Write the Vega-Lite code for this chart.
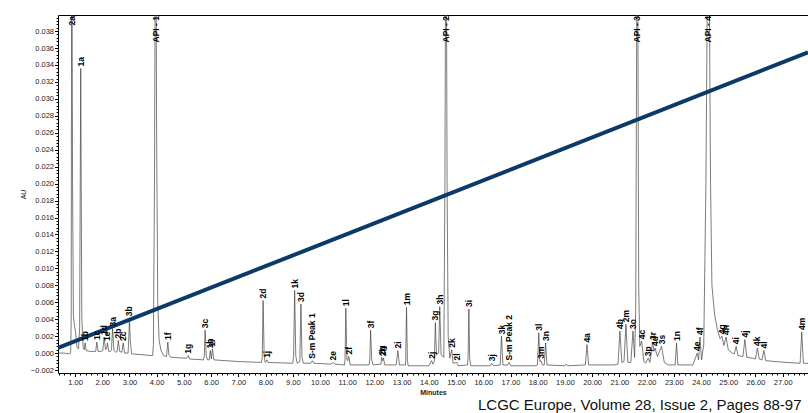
{
  "$schema": "https://vega.github.io/schema/vega-lite/v6.json",
  "width": 750,
  "height": 358,
  "autosize": {"type": "none"},
  "padding": {"left": 58, "top": 15, "right": 0, "bottom": 40},
  "config": {"font": "Liberation Sans", "view": {"stroke": null}, "axis": {"grid": false}},
  "title": {"text": "LCGC Europe, Volume 28, Issue 2, Pages 88-97", "orient": "bottom", "anchor": "start", "frame": "group", "dx": 420, "offset": 15, "baseline": "alphabetic", "fontSize": 15, "fontWeight": "normal", "color": "#111"},
  "datasets": {
    "trace": [
      {"t":0.375,"v":0.0000},{"t":0.6,"v":0.0000},{"t":0.8,"v":-0.0001},{"t":0.84,"v":0.0000},
      {"t":0.86,"v":0.004},{"t":0.88,"v":0.06},{"t":0.91,"v":0.02},{"t":0.94,"v":0.0045},{"t":0.97,"v":0.0035},{"t":1.02,"v":0.0025},{"t":1.07,"v":0.0007},{"t":1.13,"v":0.0005},
      {"t":1.17,"v":0.003},{"t":1.21,"v":0.0336},{"t":1.25,"v":0.004},{"t":1.3,"v":0.0006},
      {"t":1.34,"v":0.0004},{"t":1.37,"v":0.0012},{"t":1.41,"v":0.0003},
      {"t":1.55,"v":0.0002},
      {"t":1.76,"v":0.0002},{"t":1.80,"v":0.0013},{"t":1.85,"v":0.0002},
      {"t":1.95,"v":0.0002},
      {"t":2.02,"v":0.0003},{"t":2.07,"v":0.0019},{"t":2.12,"v":0.0004},
      {"t":2.16,"v":0.0005},{"t":2.19,"v":0.0012},{"t":2.24,"v":0.0002},
      {"t":2.30,"v":0.0002},
      {"t":2.34,"v":0.0004},{"t":2.38,"v":0.0029},{"t":2.43,"v":0.0003},
      {"t":2.50,"v":0.0001},
      {"t":2.55,"v":0.0002},{"t":2.59,"v":0.0015},{"t":2.64,"v":0.0002},
      {"t":2.72,"v":0.0001},{"t":2.77,"v":0.0012},{"t":2.82,"v":0.0000},
      {"t":2.95,"v":0.0000},{"t":2.98,"v":0.002},{"t":3.00,"v":0.0041},{"t":3.03,"v":0.0015},{"t":3.08,"v":-0.0001},
      {"t":3.5,"v":-0.0002},{"t":3.85,"v":-0.0003},
      {"t":3.88,"v":0.001},{"t":3.92,"v":0.02},{"t":3.96,"v":0.06},{"t":4.00,"v":0.025},{"t":4.04,"v":0.006},{"t":4.09,"v":0.0015},{"t":4.16,"v":0.0003},{"t":4.26,"v":-0.0003},
      {"t":4.36,"v":-0.0004},{"t":4.41,"v":0.0013},{"t":4.45,"v":-0.0002},{"t":4.52,"v":-0.0005},
      {"t":5.1,"v":-0.0006},{"t":5.16,"v":-0.0003},{"t":5.21,"v":-0.0007},
      {"t":5.72,"v":-0.0008},{"t":5.75,"v":-0.0004},{"t":5.78,"v":0.0027},{"t":5.82,"v":-0.0003},{"t":5.87,"v":-0.0008},
      {"t":5.93,"v":-0.0008},{"t":5.97,"v":0.0003},{"t":6.01,"v":-0.0007},
      {"t":6.05,"v":0.0005},{"t":6.10,"v":-0.0008},
      {"t":7.0,"v":-0.0010},{"t":7.85,"v":-0.0011},
      {"t":7.88,"v":-0.0005},{"t":7.91,"v":0.0062},{"t":7.95,"v":-0.0004},{"t":7.99,"v":-0.0011},
      {"t":8.05,"v":-0.0008},{"t":8.09,"v":-0.0011},
      {"t":9.0,"v":-0.0012},
      {"t":9.03,"v":-0.0004},{"t":9.07,"v":0.0074},{"t":9.11,"v":-0.0003},{"t":9.16,"v":-0.0012},
      {"t":9.26,"v":-0.0010},{"t":9.30,"v":0.0058},{"t":9.34,"v":-0.0005},{"t":9.39,"v":-0.0012},
      {"t":9.66,"v":-0.0012},{"t":9.72,"v":-0.0009},{"t":9.78,"v":-0.0012},
      {"t":10.4,"v":-0.0013},{"t":10.49,"v":-0.0011},{"t":10.55,"v":-0.0013},
      {"t":10.9,"v":-0.0014},
      {"t":10.92,"v":-0.0008},{"t":10.95,"v":0.0053},{"t":10.99,"v":-0.0008},
      {"t":11.02,"v":-0.0009},{"t":11.06,"v":-0.0004},{"t":11.11,"v":-0.0014},
      {"t":11.8,"v":-0.0014},
      {"t":11.83,"v":-0.0008},{"t":11.86,"v":0.0027},{"t":11.90,"v":-0.0008},{"t":11.95,"v":-0.0014},
      {"t":12.24,"v":-0.0013},{"t":12.27,"v":-0.0005},{"t":12.30,"v":-0.0009},{"t":12.33,"v":-0.0006},{"t":12.38,"v":-0.0014},
      {"t":12.80,"v":-0.0014},{"t":12.86,"v":0.0003},{"t":12.92,"v":-0.0014},
      {"t":13.14,"v":-0.0014},{"t":13.15,"v":-0.0008},{"t":13.18,"v":0.0054},{"t":13.21,"v":-0.0008},{"t":13.24,"v":-0.0015},
      {"t":14.0,"v":-0.0015},
      {"t":14.10,"v":-0.0009},{"t":14.15,"v":-0.0013},
      {"t":14.20,"v":-0.0010},{"t":14.24,"v":0.0036},{"t":14.28,"v":-0.0002},
      {"t":14.36,"v":0.0000},{"t":14.40,"v":0.0055},{"t":14.45,"v":-0.0002},
      {"t":14.55,"v":-0.0005},{"t":14.59,"v":0.02},{"t":14.63,"v":0.06},{"t":14.67,"v":0.02},{"t":14.71,"v":0.002},{"t":14.77,"v":-0.0006},
      {"t":14.84,"v":0.0004},{"t":14.89,"v":-0.0012},
      {"t":15.03,"v":-0.0011},{"t":15.08,"v":-0.0015},
      {"t":15.42,"v":-0.0014},{"t":15.44,"v":-0.0006},{"t":15.47,"v":0.0052},{"t":15.50,"v":-0.0006},{"t":15.54,"v":-0.0015},
      {"t":16.25,"v":-0.0015},{"t":16.31,"v":-0.0012},{"t":16.37,"v":-0.0015},
      {"t":16.62,"v":-0.0014},{"t":16.67,"v":0.0020},{"t":16.72,"v":-0.0014},
      {"t":16.90,"v":-0.0014},{"t":16.95,"v":-0.0011},{"t":17.01,"v":-0.0015},
      {"t":17.9,"v":-0.0015},
      {"t":17.99,"v":-0.0014},{"t":18.04,"v":0.0024},{"t":18.08,"v":-0.0010},
      {"t":18.12,"v":-0.0009},{"t":18.17,"v":-0.0014},
      {"t":18.24,"v":-0.0014},{"t":18.29,"v":0.0012},{"t":18.34,"v":-0.0014},
      {"t":19.0,"v":-0.0015},{"t":19.05,"v":-0.0013},{"t":19.1,"v":-0.0015},
      {"t":19.75,"v":-0.0014},{"t":19.81,"v":0.0010},{"t":19.87,"v":-0.0014},
      {"t":20.8,"v":-0.0014},
      {"t":20.95,"v":-0.0013},{"t":21.02,"v":0.0026},{"t":21.09,"v":-0.0011},
      {"t":21.17,"v":-0.0010},{"t":21.24,"v":0.0034},{"t":21.31,"v":-0.0011},
      {"t":21.42,"v":-0.0011},{"t":21.50,"v":0.0026},{"t":21.56,"v":-0.0005},
      {"t":21.60,"v":0.005},{"t":21.66,"v":0.06},{"t":21.71,"v":0.008},{"t":21.75,"v":0.0008},
      {"t":21.82,"v":0.0014},{"t":21.90,"v":-0.0010},
      {"t":21.96,"v":-0.0012},{"t":22.06,"v":-0.0006},{"t":22.12,"v":-0.0011},
      {"t":22.22,"v":0.0013},{"t":22.27,"v":0.0002},
      {"t":22.31,"v":0.0006},{"t":22.40,"v":-0.0004},
      {"t":22.55,"v":0.0008},{"t":22.65,"v":-0.0011},
      {"t":22.8,"v":-0.0014},
      {"t":23.05,"v":-0.0014},{"t":23.10,"v":0.0012},{"t":23.15,"v":-0.0014},
      {"t":23.7,"v":-0.0014},
      {"t":23.86,"v":0.0000},{"t":23.91,"v":-0.0008},
      {"t":23.96,"v":0.0019},{"t":24.02,"v":-0.0008},
      {"t":24.10,"v":0.001},{"t":24.18,"v":0.02},{"t":24.27,"v":0.06},{"t":24.35,"v":0.02},{"t":24.40,"v":0.008},{"t":24.5,"v":0.0045},{"t":24.6,"v":0.0028},{"t":24.7,"v":0.0017},
      {"t":24.77,"v":0.0020},{"t":24.84,"v":0.0009},
      {"t":24.92,"v":0.0019},{"t":25.0,"v":0.0004},
      {"t":25.15,"v":0.0000},
      {"t":25.22,"v":-0.0001},{"t":25.29,"v":0.0008},{"t":25.36,"v":-0.0003},
      {"t":25.54,"v":-0.0004},{"t":25.61,"v":0.0016},{"t":25.68,"v":-0.0005},
      {"t":25.9,"v":-0.0006},
      {"t":26.0,"v":-0.0007},{"t":26.07,"v":0.0006},{"t":26.14,"v":-0.0007},
      {"t":26.24,"v":-0.0008},{"t":26.31,"v":0.0003},{"t":26.38,"v":-0.0009},
      {"t":27.1,"v":-0.0011},
      {"t":27.64,"v":-0.0012},{"t":27.70,"v":0.0025},{"t":27.76,"v":-0.0012},
      {"t":27.93,"v":-0.0012}
    ],
    "grad": [{"t":0.375,"v":0.0006},{"t":27.93,"v":0.0355}],
    "labels": [
      {"t":1.21,"v":0.0336,"label":"1a"},{"t":1.37,"v":0.0012,"label":"1b"},{"t":1.80,"v":0.0013,"label":"1c"},
      {"t":2.07,"v":0.0019,"label":"1d"},{"t":2.19,"v":0.0012,"label":"1e"},{"t":2.38,"v":0.0029,"label":"3a"},
      {"t":2.59,"v":0.0015,"label":"2b"},{"t":2.77,"v":0.0012,"label":"2c"},{"t":3.00,"v":0.0041,"label":"3b"},
      {"t":4.41,"v":0.0013,"label":"1f"},{"t":5.16,"v":-0.0003,"label":"1g"},{"t":5.78,"v":0.0027,"label":"3c"},
      {"t":5.97,"v":0.0003,"label":"1h"},{"t":6.05,"v":0.0005,"label":"1i"},{"t":7.91,"v":0.0062,"label":"2d"},
      {"t":8.05,"v":-0.0008,"label":"1j"},{"t":9.07,"v":0.0074,"label":"1k"},{"t":9.30,"v":0.0058,"label":"3d"},
      {"t":9.72,"v":-0.0009,"label":"S-m Peak 1"},{"t":10.49,"v":-0.0011,"label":"2e"},{"t":10.95,"v":0.0053,"label":"1l"},
      {"t":11.06,"v":-0.0004,"label":"2f"},{"t":11.86,"v":0.0027,"label":"3f"},{"t":12.27,"v":-0.0005,"label":"2g"},
      {"t":12.33,"v":-0.0006,"label":"2h"},{"t":12.86,"v":0.0003,"label":"2i"},{"t":13.18,"v":0.0054,"label":"1m"},
      {"t":14.10,"v":-0.0009,"label":"2j"},{"t":14.24,"v":0.0036,"label":"3g"},{"t":14.40,"v":0.0055,"label":"3h"},
      {"t":14.84,"v":0.0004,"label":"2k"},{"t":15.03,"v":-0.0011,"label":"2l"},{"t":15.47,"v":0.0052,"label":"3i"},
      {"t":16.31,"v":-0.0012,"label":"3j"},{"t":16.67,"v":0.0020,"label":"3k"},{"t":16.95,"v":-0.0011,"label":"S-m Peak 2"},
      {"t":18.04,"v":0.0024,"label":"3l"},{"t":18.12,"v":-0.0009,"label":"3m"},{"t":18.29,"v":0.0012,"label":"3n"},
      {"t":19.81,"v":0.0010,"label":"4a"},{"t":21.02,"v":0.0026,"label":"4b"},{"t":21.24,"v":0.0034,"label":"2m"},
      {"t":21.50,"v":0.0026,"label":"3o"},{"t":21.82,"v":0.0014,"label":"4c"},{"t":22.06,"v":-0.0006,"label":"3p"},
      {"t":22.22,"v":0.0013,"label":"3r"},{"t":22.31,"v":0.0006,"label":"4d"},{"t":22.55,"v":0.0008,"label":"3s"},
      {"t":23.10,"v":0.0012,"label":"1n"},{"t":23.86,"v":0.0000,"label":"4e"},{"t":23.96,"v":0.0019,"label":"4f"},
      {"t":24.77,"v":0.0020,"label":"4g"},{"t":24.92,"v":0.0019,"label":"4h"},{"t":25.29,"v":0.0008,"label":"4i"},
      {"t":25.61,"v":0.0016,"label":"4j"},{"t":26.07,"v":0.0006,"label":"4k"},{"t":26.31,"v":0.0003,"label":"4l"},
      {"t":27.70,"v":0.0025,"label":"4m"}
    ],
    "toplabels": [
      {"t":0.88,"label":"2a"},{"t":3.96,"label":"API - 1"},{"t":14.63,"label":"API - 2"},{"t":21.66,"label":"API - 3"},{"t":24.27,"label":"API - 4"}
    ]
  },
  "resolve": {"axis": {"x": "independent", "y": "independent"}},
  "layer": [
    {
      "data": {"name": "trace"},
      "mark": {"type": "line", "clip": true, "stroke": "#444", "strokeWidth": 0.7, "interpolate": "linear"},
      "encoding": {
        "x": {"field": "t", "type": "quantitative", "scale": {"domain": [0.375, 27.93], "nice": false, "zero": false},
          "axis": {"orient": "bottom", "values": [1,2,3,4,5,6,7,8,9,10,11,12,13,14,15,16,17,18,19,20,21,22,23,24,25,26,27,28], "format": ".2f", "title": "Minutes", "titleFontSize": 7, "titleFontWeight": "bold", "titleColor": "#222", "titlePadding": 2, "labelFontSize": 7.5, "labelColor": "#222", "labelPadding": 2, "tickSize": 3.5, "tickColor": "#000", "domainColor": "#000", "labelFlush": false, "labelOverlap": false}},
        "y": {"field": "v", "type": "quantitative", "scale": {"domain": [-0.00235, 0.0399], "nice": false, "zero": false},
          "axis": {"orient": "left", "values": [-0.002,0,0.002,0.004,0.006,0.008,0.010,0.012,0.014,0.016,0.018,0.020,0.022,0.024,0.026,0.028,0.030,0.032,0.034,0.036,0.038], "format": ".3f", "title": "AU", "titleFontSize": 7, "titleFontWeight": "normal", "titleColor": "#222", "titlePadding": 4, "labelFontSize": 7.5, "labelColor": "#222", "labelPadding": 1, "tickSize": 3.5, "tickColor": "#000", "domainColor": "#000", "labelOverlap": false}}
      }
    },
    {
      "data": {"name": "grad"},
      "mark": {"type": "line", "clip": true, "stroke": "#0b3a69", "strokeWidth": 4},
      "encoding": {
        "x": {"field": "t", "type": "quantitative",
          "axis": {"orient": "bottom", "values": [0.4,0.6,0.8,1.2,1.4,1.6,1.8,2.2,2.4,2.6,2.8,3.2,3.4,3.6,3.8,4.2,4.4,4.6,4.8,5.2,5.4,5.6,5.8,6.2,6.4,6.6,6.8,7.2,7.4,7.6,7.8,8.2,8.4,8.6,8.8,9.2,9.4,9.6,9.8,10.2,10.4,10.6,10.8,11.2,11.4,11.6,11.8,12.2,12.4,12.6,12.8,13.2,13.4,13.6,13.8,14.2,14.4,14.6,14.8,15.2,15.4,15.6,15.8,16.2,16.4,16.6,16.8,17.2,17.4,17.6,17.8,18.2,18.4,18.6,18.8,19.2,19.4,19.6,19.8,20.2,20.4,20.6,20.8,21.2,21.4,21.6,21.8,22.2,22.4,22.6,22.8,23.2,23.4,23.6,23.8,24.2,24.4,24.6,24.8,25.2,25.4,25.6,25.8,26.2,26.4,26.6,26.8,27.2,27.4,27.6,27.8], "labels": false, "domain": false, "title": null, "tickSize": 2, "tickColor": "#000"}},
        "y": {"field": "v", "type": "quantitative",
          "axis": {"orient": "left", "values": [-0.0016,-0.0012,-0.0008,-0.0004,0.0004,0.0008,0.0012,0.0016,0.0024,0.0028,0.0032,0.0036,0.0044,0.0048,0.0052,0.0056,0.0064,0.0068,0.0072,0.0076,0.0084,0.0088,0.0092,0.0096,0.0104,0.0108,0.0112,0.0116,0.0124,0.0128,0.0132,0.0136,0.0144,0.0148,0.0152,0.0156,0.0164,0.0168,0.0172,0.0176,0.0184,0.0188,0.0192,0.0196,0.0204,0.0208,0.0212,0.0216,0.0224,0.0228,0.0232,0.0236,0.0244,0.0248,0.0252,0.0256,0.0264,0.0268,0.0272,0.0276,0.0284,0.0288,0.0292,0.0296,0.0304,0.0308,0.0312,0.0316,0.0324,0.0328,0.0332,0.0336,0.0344,0.0348,0.0352,0.0356,0.0364,0.0368,0.0372,0.0376,0.0384,0.0388,0.0392,0.0396], "labels": false, "domain": false, "title": null, "tickSize": 2, "tickColor": "#000"}}
      }
    },
    {
      "data": {"name": "labels"},
      "mark": {"type": "text", "angle": 270, "align": "left", "baseline": "middle", "dx": 2, "fontSize": 8.5, "fontWeight": "bold", "color": "#000"},
      "encoding": {
        "x": {"field": "t", "type": "quantitative",
          "axis": {"orient": "top", "labels": false, "ticks": false, "title": null, "domain": true, "domainColor": "#000"}},
        "y": {"field": "v", "type": "quantitative", "axis": null},
        "text": {"field": "label"}
      }
    },
    {
      "data": {"name": "toplabels"},
      "mark": {"type": "text", "angle": 270, "align": "right", "baseline": "middle", "dx": -1, "fontSize": 8.5, "fontWeight": "bold", "color": "#000"},
      "encoding": {
        "x": {"field": "t", "type": "quantitative", "axis": null},
        "y": {"value": 0},
        "text": {"field": "label"}
      }
    }
  ]
}
